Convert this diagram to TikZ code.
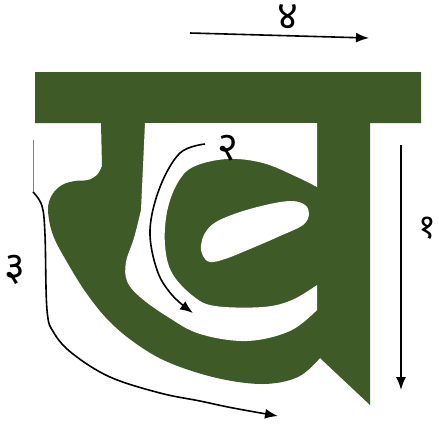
\documentclass[tikz,border=0pt]{standalone}
\usepackage{fontspec}
\newfontfamily\devfont[Script=Devanagari]{Noto Sans}
\usetikzlibrary{arrows.meta}
\definecolor{khagreen}{RGB}{62, 90, 38}

\begin{document}
\begin{tikzpicture}[x=1pt, y=-1pt,
    strokearrow/.style={line width=1.6pt, -{Latex[length=13pt, width=10pt]}},
    numlabel/.style={font=\devfont\fontsize{40}{44}\selectfont, inner sep=0pt}]
  \useasboundingbox (0, 0) rectangle (439, 429);

  % Letter body
  \fill[khagreen] (35, 72) -- (421, 72) -- (421, 123) -- (370, 123) -- (370, 405) -- (320, 358)
    -- plot[smooth, tension=0.6] coordinates {(320, 358) (298, 377) (263, 384) (217, 378) (170, 363)
       (138, 345) (110, 322) (87, 294) (67, 262) (53, 235) (48, 210) (52, 195) (62, 185) (75, 181)
       (88, 180) (97, 175) (102, 166)}
    -- (101, 123) -- (35, 123) -- cycle;

  % Gap between stem and loop
  \fill[white] (145, 123) -- (317, 123) -- (317, 187)
    -- plot[smooth, tension=0.6] coordinates {(317, 187) (297, 177) (263, 163) (227, 159) (193, 167)
       (177, 184) (167, 212) (165, 245) (172, 273) (193, 296) (215, 306) (263, 307) (292, 300) (317, 285)}
    -- (317, 310)
    -- plot[smooth, tension=0.6] coordinates {(317, 310) (290, 331) (247, 341) (200, 334) (168, 317)
       (140, 297) (127, 281) (126, 262) (134, 238) (141, 210)}
    -- (145, 123) -- cycle;

  % Hole of the loop
  \fill[white] plot[smooth cycle, tension=0.6] coordinates {(201, 246) (205, 233) (216, 222) (240, 212)
     (270, 204) (292, 201) (305, 205) (309, 214) (303, 225) (280, 236) (250, 249) (225, 259)
     (210, 262) (203, 256)};

  % Stroke 1
  \coordinate (s1a) at (401, 145);
  \coordinate (s1b) at (401, 390);
  \draw[strokearrow] (s1a) -- (s1b);
  \node[numlabel, font=\devfont\fontsize{34}{38}\selectfont] (n1) at (427, 228) {१};

  % Stroke 2
  \draw[strokearrow] plot[smooth, tension=0.6] coordinates {(205, 144) (180, 153) (160, 187) (150, 230)
     (157, 270) (172, 295) (193, 313)};
  \node[numlabel] (n2) at (228, 148) {२};

  % Stroke 3
  \coordinate (s3a) at (33, 140);
  \coordinate (s3b) at (33, 192);
  \draw[gray, line width=0.8pt] (s3a) -- (s3b);
  \draw[strokearrow] plot[smooth, tension=0.6] coordinates {(33, 192) (42, 206) (45, 235) (47, 310)
     (54, 333) (73, 354) (110, 377) (160, 393) (200, 401) (233, 408) (278, 416)};
  \node[numlabel] (n3) at (15, 270) {३};

  % Stroke 4
  \coordinate (s4a) at (190, 33);
  \coordinate (s4b) at (369, 38);
  \draw[strokearrow] (s4a) -- (s4b);
  \node[numlabel] (n4) at (288, 17) {४};
\end{tikzpicture}
\end{document}
